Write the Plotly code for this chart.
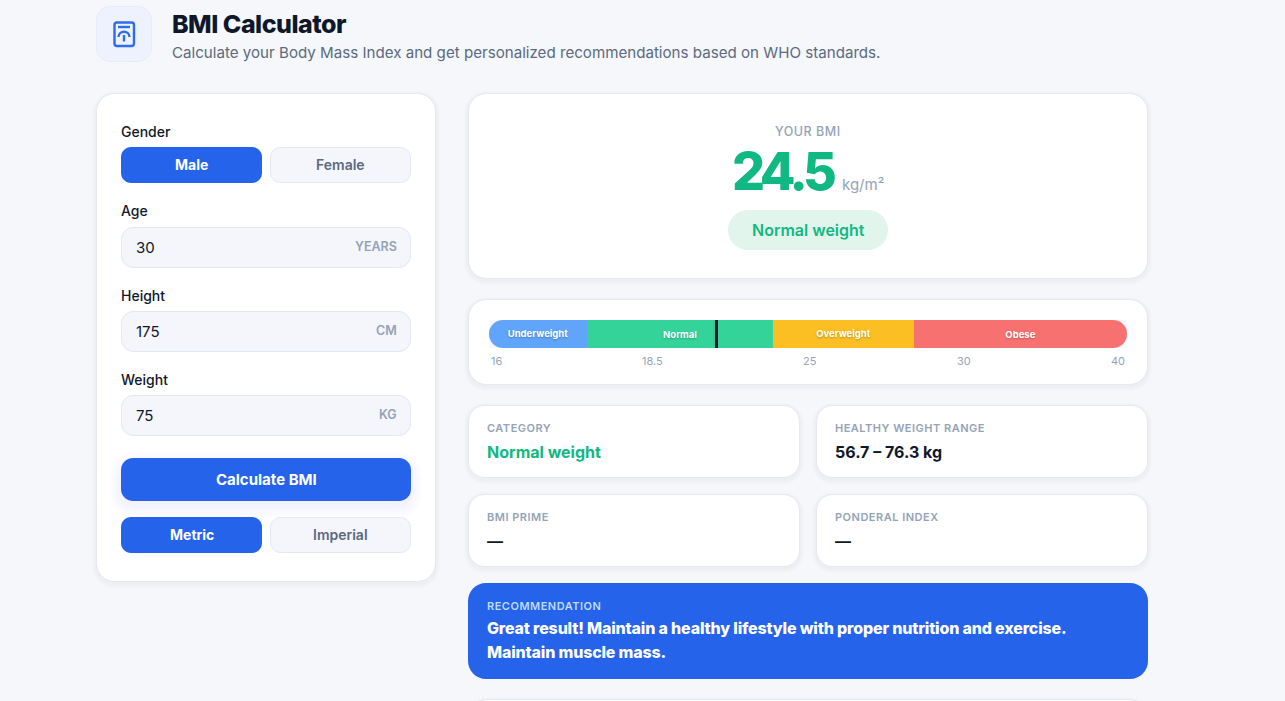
import plotly.graph_objects as go

# bar segments (share of the scale, %)
segment_labels = ['Underweight', 'Normal', 'Overweight', 'Obese']
segment_shares = [15.36, 29.15, 22.10, 33.39]
segment_colors = ['#60a5fa', '#34d399', '#fbbf24', '#f87171']
scale_ticks = ['16', '18.5', '25', '30', '40']
marker_share = 35.65

gender_options = ['Male', 'Female']
unit_options = ['Metric', 'Imperial']
input_labels = ['Age', 'Height', 'Weight']
input_values = ['30', '175', '75']
input_units = ['YEARS', 'CM', 'KG']

bmi_value = '24.5'
bmi_unit = 'kg/m²'
bmi_category = 'Normal weight'
stat_labels = ['CATEGORY', 'HEALTHY WEIGHT RANGE', 'BMI PRIME', 'PONDERAL INDEX']
stat_values = ['Normal weight', '56.7 – 76.3 kg', '—', '—']
recommendation = ['Great result! Maintain a healthy lifestyle with proper nutrition and exercise.',
                  'Maintain muscle mass.']

BG = '#f5f7fb'
BLUE = '#2563eb'
GREEN = '#10b981'
DARK = '#0f172a'
GREY = '#5b6a80'
MUTED = '#94a3b8'
BORDER = '#e2e8f0'
FIELD = '#f4f6fb'
W, H = 1285, 701

shapes = []
annotations = []


def rounded(x0, y0, x1, y1, r):
    k = r * 0.45
    return (f'M{x0 + r},{y0} L{x1 - r},{y0} C{x1 - k},{y0} {x1},{y0 + k} {x1},{y0 + r} '
            f'L{x1},{y1 - r} C{x1},{y1 - k} {x1 - k},{y1} {x1 - r},{y1} '
            f'L{x0 + r},{y1} C{x0 + k},{y1} {x0},{y1 - k} {x0},{y1 - r} '
            f'L{x0},{y0 + r} C{x0},{y0 + k} {x0 + k},{y0} {x0 + r},{y0} Z')


def box(x0, y0, x1, y1, r, fill, line=None):
    if line:
        shapes.append(dict(type='path', path=rounded(x0 + .5, y0 + .5, x1 - .5, y1 - .5, r), fillcolor=fill,
                           line=dict(color=line, width=1), layer='below', xref='x', yref='y'))
    else:
        shapes.append(dict(type='path', path=rounded(x0, y0, x1, y1, r), fillcolor=fill,
                           line=dict(width=0), layer='below', xref='x', yref='y'))


def glow(x0, y0, x1, y1, r, color, spread, dy, alpha):
    # fake css box-shadow with stacked translucent boxes
    for i in range(spread, 0, -1):
        shapes.append(dict(type='path', path=rounded(x0 - i, y0 - i + dy, x1 + i, y1 + i + dy, r + i),
                           fillcolor=color, opacity=alpha, line=dict(width=0), layer='below',
                           xref='x', yref='y'))


def card(x0, y0, x1, y1, r=18):
    glow(x0, y0, x1, y1, r, '#334155', 4, 2, 0.012)
    box(x0, y0, x1, y1, r, '#ffffff', '#e4e8f0')


def text(x, y, s, size, color, weight=400, anchor='left', spacing=0):
    if spacing:
        s = f'<span style="letter-spacing:{spacing}px">{s}</span>'
    annotations.append(dict(x=x, y=y, xref='x', yref='y', text=s, showarrow=False, xanchor=anchor,
                            yanchor='middle', font=dict(family='Inter', size=size, color=color, weight=weight),
                            borderpad=0, borderwidth=0))


def toggle(y0, y1, options):
    box(121, y0, 262, y1, 10, BLUE)
    box(270, y0, 411, y1, 10, FIELD, BORDER)
    text(191.5, (y0 + y1) / 2 - 0.5, options[0], 14, '#ffffff', 700, 'center')
    text(340.5, (y0 + y1) / 2 - 0.5, options[1], 14, GREY, 600, 'center')


# header
box(96, 6, 152, 62, 14, '#eef2fe', '#e6ebf7')
icon = dict(color='#2f6bee', width=2.4)
shapes.append(dict(type='path', path=rounded(114.5, 22.5, 134, 46, 2.5), fillcolor='rgba(0,0,0,0)',
                   line=icon, xref='x', yref='y'))
shapes.append(dict(type='line', x0=118, x1=130, y0=27, y1=27, line=icon, xref='x', yref='y'))
shapes.append(dict(type='path', path='M118.5,37 C118.5,30 129.5,30 129.5,37', fillcolor='rgba(0,0,0,0)',
                   line=icon, xref='x', yref='y'))
shapes.append(dict(type='line', x0=124, x1=124, y0=35, y1=41.5, line=icon, xref='x', yref='y'))
text(172, 23.6, 'BMI Calculator', 25, DARK, 800, spacing=-0.5)
text(172, 52.8, 'Calculate your Body Mass Index and get personalized recommendations based on WHO standards.',
     15.13, GREY)

# input panel
card(96, 93, 436, 582)
text(121, 131.8, 'Gender', 14, DARK, 500)
toggle(147, 183, gender_options)
label_nudge = [-0.6, 0, 0]
for i, (label, val, unit) in enumerate(zip(input_labels, input_values, input_units)):
    top = 227 + i * 84
    text(121, top - 15.5 + label_nudge[i], label, 14, DARK, 500)
    box(121, top, 411, top + 41, 12, FIELD, BORDER)
    text(136, top + 20.5, val, 15, DARK, 400)
    text(397, top + 19.5, unit, 12.5, MUTED, 600, 'right')

glow(121, 458, 411, 501, 12, BLUE, 12, 5, 0.005)
box(121, 458, 411, 501, 12, BLUE)
text(266, 479.5, 'Calculate BMI', 15, '#ffffff', 700, 'center')
toggle(517, 553, unit_options)

# result card
card(468, 93, 1148, 279)
text(808, 131.6, 'YOUR BMI', 12.5, MUTED, 500, 'center', spacing=0.5)
text(783, 171.4, bmi_value, 52, GREEN, 800, 'center', spacing=-4.5)
text(842, 184.5, bmi_unit, 15, MUTED, 400)
box(728, 210, 888, 250, 20, '#e1f5ed')
text(808, 230.2, bmi_category, 16, GREEN, 600, 'center')

# scale card
card(468, 299, 1148, 385)
tick_x = [491, 652.5, 810, 964, 1125]
tick_anchor = ['left', 'center', 'center', 'center', 'right']
for lbl, x, a in zip(scale_ticks, tick_x, tick_anchor):
    text(x, 361, lbl, 11, MUTED, 400, a)

# stat cards
stat_boxes = [(468, 405, 800, 478), (816, 405, 1148, 478), (468, 494, 800, 567), (816, 494, 1148, 567)]
for i, (b, lbl, val) in enumerate(zip(stat_boxes, stat_labels, stat_values)):
    card(*b, r=16)
    text(b[0] + 19, b[1] + 23, lbl, 11, MUTED, 600, spacing=0.5)
    text(b[0] + 19, b[1] + 46.5, val, 16, GREEN if i == 0 else DARK, 700)

# recommendation
box(468, 583, 1148, 679, 18, BLUE)
text(487, 606, 'RECOMMENDATION', 11, '#bfdbfe', 600, spacing=0.5)
text(487, 628.2, recommendation[0], 16, '#ffffff', 800, spacing=-0.17)
text(487, 652.2, recommendation[1], 16, '#ffffff', 800, spacing=-0.17)

# next card, cut off by the window
card(468, 699, 1148, 760)

fig = go.Figure()
label_font = dict(family='Inter', size=9.5, color='#ffffff', weight=700,
                  shadow='0px 1px 2px rgba(0,0,0,0.25)')
tuck = 5  # end bars run this far under their neighbour so only the outer end shows round
starts = [sum(segment_shares[:i]) for i in range(len(segment_shares))]

# round end pieces first, drawn outward from under the middle segments
fig.add_trace(go.Bar(y=[0], x=[-(segment_shares[0] + tuck)], base=[segment_shares[0] + tuck], orientation='h',
                     width=1, xaxis='x2', yaxis='y2', hoverinfo='skip', showlegend=False,
                     marker=dict(color=segment_colors[0], line=dict(width=0), cornerradius=14)))
fig.add_trace(go.Bar(y=[0], x=[segment_shares[3] + tuck], base=[starts[3] - tuck], orientation='h',
                     width=1, xaxis='x2', yaxis='y2', hoverinfo='skip', showlegend=False,
                     marker=dict(color=segment_colors[3], line=dict(width=0), cornerradius=14)))

# middle segments are solid, end segments only carry their label
for i, (lbl, share, col) in enumerate(zip(segment_labels, segment_shares, segment_colors)):
    fig.add_trace(go.Bar(
        y=[0],
        x=[share],
        base=[starts[i]],
        orientation='h',
        width=1,
        xaxis='x2',
        yaxis='y2',
        text=[lbl],
        textposition='inside',
        insidetextanchor='middle',
        textangle=0,
        constraintext='none',
        textfont=label_font,
        marker=dict(color='rgba(0,0,0,0)' if i in (0, 3) else col, line=dict(width=0)),
        hoverinfo='skip',
        showlegend=False,
    ))

shapes.append(dict(type='rect', xref='x2', yref='y2', x0=marker_share - 0.24, x1=marker_share + 0.24,
                   y0=-0.5, y1=0.5, fillcolor=DARK, line=dict(width=0), layer='above'))

fig.update_layout(
    width=W,
    height=H,
    margin=dict(l=0, r=0, t=0, b=0),
    autosize=False,
    paper_bgcolor=BG,
    plot_bgcolor=BG,
    barmode='overlay',
    xaxis=dict(range=[0, W], domain=[0, 1], visible=False, fixedrange=True),
    yaxis=dict(range=[H, 0], domain=[0, 1], visible=False, fixedrange=True),
    xaxis2=dict(range=[0, 100], domain=[489 / W, 1127 / W], anchor='y2', visible=False, fixedrange=True),
    yaxis2=dict(range=[-0.5, 0.5], domain=[1 - 348 / H, 1 - 320 / H], anchor='x2', visible=False, fixedrange=True),
    shapes=shapes,
    annotations=annotations,
)

fig.write_html('out.html', config=dict(displayModeBar=False),
               post_script="document.body.style.margin='0';document.documentElement.style.overflow='hidden';"
                           "document.body.style.background='" + BG + "';")
